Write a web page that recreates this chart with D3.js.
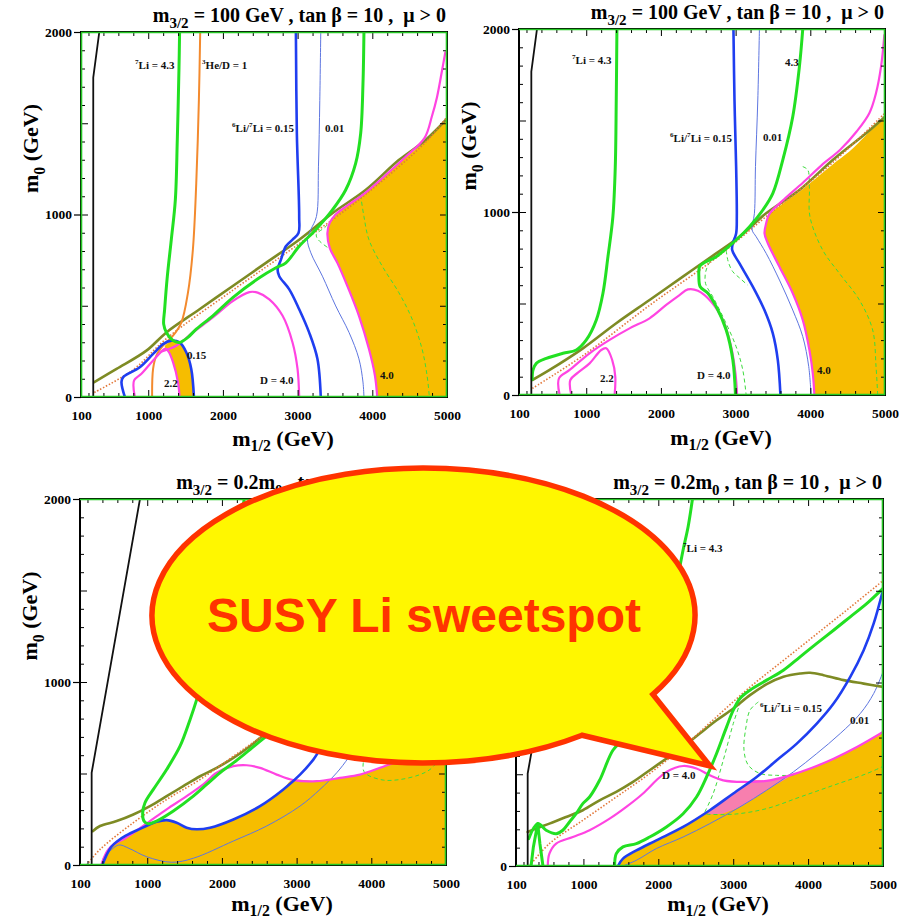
<!DOCTYPE html>
<html>
<head>
<meta charset="utf-8">
<script src="https://cdn.jsdelivr.net/npm/d3@7"></script>
<style>
  html, body { margin: 0; padding: 0; background: #fff; }
  svg { display: block; }
  text { white-space: pre; }
</style>
</head>
<body>
<svg id="fig" width="906" height="922"></svg>
<script>
// ---------------------------------------------------------------
// Axis ticks (m_1/2 and m_0 in GeV)
// ---------------------------------------------------------------
const m12TickLabels = [100, 1000, 2000, 3000, 4000, 5000];
const m0TickLabels = [0, 1000, 2000];
const m12MinorTicks = d3.range(200, 5000, 200);
const m0MinorTicks = d3.range(100, 2000, 100);

// ---------------------------------------------------------------
// Panel 1: m3/2 = 100 GeV  (contours as [m_1/2, m_0] pairs)
// ---------------------------------------------------------------
const tlBlack = [[264,0],[264,1750],[345,2000]];
const tlLi7 = [[1420,2000],[1412,1806],[1389,1407],[1363,1080],[1309,862],[1256,662],[1220,481],[1207,399],[1243,354],[1332,309],[1420,299],[1532,327],[1643,372],[1865,445],[2132,545],[2488,653],[2710,708],[2843,735],[3021,826],[3243,917],[3466,1025],[3643,1134],[3777,1280],[3844,1443],[3875,1715],[3888,2000]];
const tlHeD = [[1696,2000],[1678,1624],[1643,1171],[1598,808],[1532,572],[1443,408],[1332,336],[1198,281],[1109,227],[1065,154],[1052,0]];
const tlOlive = [[278,82],[576,154],[976,254],[1243,354],[1687,481],[2132,608],[2576,735],[3021,862],[3466,1007],[3910,1134],[4355,1298],[4710,1407],[5000,1525]];
const tlDotted = [[278,25],[800,150],[1243,320],[2132,585],[3021,840],[3910,1110],[4710,1395],[5000,1535]];
const tlMagLoop = [[820,0],[811,91],[909,127],[1065,200],[1180,250],[1230,265],[1270,250],[1332,191],[1398,82],[1420,0]];
const tlMagD = [[1180,250],[1376,281],[1598,354],[1865,436],[2132,526],[2354,575],[2465,572],[2621,535],[2799,445],[2932,299],[2999,154],[3021,0]];
const tlMagR = [[4977,1888],[4933,1788],[4866,1643],[4799,1540],[4700,1420],[4444,1315],[4177,1215],[3910,1120],[3688,1055],[3510,1000],[3430,955],[3399,898],[3430,817],[3532,735],[3666,608],[3821,445],[3955,263],[4035,118],[4066,0]];
const tlBlueLoop = [[687,0],[642,82],[665,109],[887,163],[1065,236],[1198,290],[1309,309],[1420,299],[1509,245],[1576,154],[1612,0]];
const tlBlue = [[2977,2000],[2990,1443],[3021,989],[3012,898],[2932,862],[2843,826],[2777,753],[2732,699],[2754,662],[2888,590],[3021,481],[3154,354],[3265,209],[3310,0]];
const tlBlueThin = [[3310,2000],[3297,1624],[3279,1261],[3252,989],[3177,917],[3132,862],[3177,790],[3332,662],[3510,499],[3688,354],[3821,209],[3875,82],[3888,0]];
const tlDash = [[3843,1107],[3888,989],[3955,862],[4133,717],[4355,572],[4533,427],[4666,263],[4733,118],[4764,0]];
const tlDash2 = [[3510,1005],[3380,935],[3250,890],[3280,860],[3400,820]];
const tlFillR = [[5000,1519],[4710,1400],[4444,1312],[4177,1212],[3910,1118],[3688,1053],[3510,998],[3430,955],[3399,898],[3430,817],[3532,735],[3666,608],[3821,445],[3955,263],[4035,118],[4066,0]];
const tlFillRCorners = [[5000,0]];
const tlFillL = [[1420,0],[1398,82],[1332,191],[1265,254],[1220,275],[1309,305],[1420,297],[1509,245],[1576,154],[1612,0]];
const tlLabels = [["^{7}Li = 4.3",823,1797],["^{3}He/D = 1",1720,1797],["^{6}Li/^{7}Li = 0.15",2122,1452],["0.01",3367,1452],["0.15",1519,208],["2.2",1211,55],["D = 4.0",2497,71],["4.0",4103,99]];

// ---------------------------------------------------------------
// Panel 2: m3/2 = 100 GeV
// ---------------------------------------------------------------
const trBlack = [[265,0],[265,1767],[341,2000]];
const trLi7L = [[1411,2000],[1402,1612],[1389,1248],[1357,975],[1291,756],[1224,556],[1135,410],[1001,301],[867,246],[689,228],[466,200],[332,173],[288,137],[276,85]];
const trLi7R = [[3899,2000],[3854,1794],[3765,1521],[3631,1284],[3498,1102],[3364,1011],[3186,920],[3007,847],[2740,756],[2562,719],[2517,701],[2508,647],[2526,592],[2629,556],[2740,483],[2874,355],[2963,191],[2998,0]];
const trOlive = [[279,82],[510,137],[956,255],[1402,392],[1848,519],[2294,647],[2740,774],[3052,865],[3409,993],[3854,1120],[4300,1284],[4746,1430],[5000,1521]];
const trDotted = [[279,36],[956,215],[1848,490],[2740,750],[3409,975],[4300,1270],[5000,1540]];
const trMagD = [[644,0],[635,91],[778,137],[1045,228],[1313,301],[1580,364],[1848,419],[2071,492],[2249,546],[2361,577],[2495,570],[2673,510],[2829,410],[2940,264],[2998,118],[3020,0]];
const trMagLoop = [[800,0],[787,82],[889,122],[1045,173],[1201,246],[1268,255],[1348,191],[1389,100],[1380,0]];
const trMagR = [[4991,1967],[4947,1794],[4880,1650],[4790,1540],[4620,1440],[4400,1340],[4150,1255],[3900,1160],[3650,1070],[3453,990],[3409,938],[3387,883],[3431,829],[3587,701],[3765,556],[3899,410],[3988,246],[4033,118],[4055,0]];
const trBlue = [[2971,2000],[2985,1612],[3007,1248],[3016,975],[3007,883],[2963,829],[2954,792],[3052,719],[3230,592],[3386,464],[3498,337],[3565,191],[3600,0]];
const trBlueThin = [[3319,2000],[3297,1612],[3266,1248],[3252,993],[3221,902],[3275,865],[3409,774],[3587,628],[3765,464],[3899,319],[3979,155],[4010,0]];
const trDashL = [[2874,801],[2695,747],[2606,683],[2597,610],[2695,537],[2851,410],[3007,264],[3096,137],[3141,0]];
const trDashLoop = [[2874,790],[2900,730],[2960,675],[3052,640],[3163,600]];
const trDashR = [[3899,1248],[3966,1230],[3988,1138],[3995,975],[4166,792],[4389,665],[4657,519],[4835,355],[4880,155],[4902,0]];
const trFill = [[5000,1512],[4746,1420],[4523,1330],[4300,1260],[4077,1185],[3854,1111],[3631,1045],[3453,985],[3409,938],[3387,883],[3431,829],[3587,701],[3765,556],[3899,410],[3988,246],[4033,118],[4062,0]];
const trFillCorners = [[5000,0]];
const trLabels = [["^{7}Li = 4.3",810,1809],["4.3",3661,1798],["^{6}Li/^{7}Li = 0.15",2122,1383],["0.01",3367,1388],["2.2",1184,71],["D = 4.0",2483,87],["4.0",4090,115]];

// ---------------------------------------------------------------
// Panel 3: m3/2 = 0.2 m0
// ---------------------------------------------------------------
const blBlack = [[256,0],[256,504],[903,2000]];
const blOlive = [[270,185],[368,213],[591,240],[814,276],[1037,322],[1260,376],[1483,431],[1707,485],[1930,531],[2153,585],[2376,649],[2599,722],[3000,830],[3500,980],[4000,1130],[4500,1290],[5000,1450]];
const blDotted = [[189,0],[368,85],[814,231],[1260,358],[1707,467],[2153,594],[2599,722],[3000,840],[4000,1150],[5000,1480]];
const blLi7 = [[2300,2000],[2000,1400],[1800,1100],[1662,904],[1573,794],[1439,649],[1260,522],[1082,413],[970,340],[939,285],[957,240],[1015,225],[1126,240],[1350,295],[1617,376],[1796,440],[1974,504],[2153,558],[2376,631],[2599,704],[3000,820],[3500,960],[4000,1120],[4500,1280],[5000,1440]];
const blMag = [[385,0],[420,40],[480,85],[560,115],[700,145],[814,176],[1037,240],[1260,304],[1528,376],[1751,440],[1930,504],[2153,540],[2332,545],[2510,531],[2733,494],[2956,464],[3268,458],[3581,476],[3849,494],[4117,531],[4296,558],[4650,600],[5000,650]];
const blBlue = [[400,0],[450,50],[520,100],[600,130],[712,160],[890,195],[1126,236],[1260,245],[1394,231],[1528,204],[1662,195],[1841,204],[2153,249],[2510,322],[2822,413],[3046,494],[3224,576],[3313,631],[3600,800],[3900,1000],[4200,1250],[4500,1550]];
const blBlueThin = [[412,37],[613,109],[756,91],[993,45],[1328,15],[1617,37],[2153,131],[2599,213],[3046,322],[3313,413],[3537,504],[3700,590],[4000,780]];
const blDash = [[3893,560],[3893,520],[3938,495],[4161,464],[4384,467],[4652,494],[4786,522],[4900,570]];
const blFill = [[385,0],[450,50],[520,100],[600,130],[712,160],[890,195],[1126,236],[1260,245],[1394,231],[1528,204],[1662,195],[1841,204],[2153,249],[2510,322],[2822,413],[2930,462],[3268,458],[3581,476],[3849,494],[4117,531],[4296,558],[4650,600],[5000,650]];
const blFillCorners = [[5000,0]];
const blLabels = [];

// ---------------------------------------------------------------
// Panel 4: m3/2 = 0.2 m0
// ---------------------------------------------------------------
const brBlack = [[256,0],[256,504],[903,2000]];
const brLi7 = [[2456,2000],[2398,1849],[2331,1722],[2200,1450],[2000,1120],[1750,850],[1550,700],[1394,631],[1216,467],[1082,376],[992,340],[903,285],[814,240],[725,195],[636,176],[502,195],[390,231],[270,149]];
const brTent = [[301,0],[332,104],[390,231],[420,120],[460,0]];
const brLi7R = [[1417,0],[1439,67],[1528,104],[1707,122],[1885,158],[2108,213],[2331,285],[2510,376],[2644,485],[2778,613],[2912,758],[3001,849],[3090,913],[3224,958],[3447,1013],[3670,1067],[3893,1140],[4116,1213],[4340,1285],[4563,1358],[4786,1431],[5000,1513]];
const brOlive = [[256,185],[368,204],[546,231],[769,267],[992,304],[1216,358],[1439,404],[1662,458],[1885,522],[2108,585],[2331,649],[2554,722],[2778,794],[3001,858],[3224,931],[3447,991],[3670,1031],[3893,1049],[4027,1053],[4206,1040],[4474,1013],[4742,994],[5000,976]];
const brDotted = [[279,0],[546,122],[992,249],[1439,376],[1885,504],[2331,649],[2778,813],[3224,975],[3670,1120],[4116,1265],[4563,1410],[5000,1555]];
const brMag = [[524,0],[546,67],[636,122],[859,158],[1082,195],[1350,258],[1573,322],[1796,395],[1974,467],[2108,513],[2331,545],[2510,531],[2688,494],[2867,467],[3135,458],[3447,464],[3759,494],[4027,531],[4340,585],[4652,649],[5000,731]];
const brBlue = [[1461,0],[1528,40],[1707,85],[1974,140],[2331,213],[2688,304],[3001,395],[3313,485],[3581,576],[3849,667],[4116,776],[4340,885],[4563,1031],[4742,1176],[4876,1322],[5000,1504]];
const brBlueThin = [[1528,0],[1707,31],[1974,95],[2331,158],[2688,231],[3090,322],[3447,413],[3804,513],[4116,613],[4429,722],[4697,831],[4876,940],[5000,1058]];
const brDashA = [[2622,295],[2733,395],[2867,576],[3001,776],[3090,885]];
const brDashB = [[3336,894],[3224,849],[3171,758],[3144,631],[3202,549],[3358,504],[3581,494],[3804,494]];
const brDashC = [[2644,282],[3001,282],[3447,313],[3893,376],[4340,440],[4786,504],[4987,540]];
const brFill = [[1461,0],[1528,40],[1707,85],[1974,140],[2331,213],[2688,304],[3001,395],[3260,465],[3447,464],[3759,494],[4027,531],[4340,585],[4652,649],[5000,731]];
const brFillCorners = [[5000,0]];
const brPink = [[2660,280],[2688,304],[3001,395],[3260,465],[3447,464],[3780,497],[3447,413],[3090,322],[2850,285]];
const brLabels = [["^{7}Li = 4.3",2330,1711],["^{6}Li/^{7}Li = 0.15",3358,839],["0.01",4559,774],["D = 4.0",2049,474]];

// ---------------------------------------------------------------
// Styles
// ---------------------------------------------------------------
const ORANGE = "#F6BD00";
const PINK = "#F77FAE";
const STY = {
  black:    { stroke: "#111111", w: 1.8 },
  li7:      { stroke: "#22E022", w: 3.0 },
  olive:    { stroke: "#7E8B24", w: 2.6 },
  dotted:   { stroke: "#E2783A", w: 1.6, dash: "1.5,1.8" },
  he:       { stroke: "#F38A2E", w: 2.0 },
  mag:      { stroke: "#FF44E2", w: 2.2 },
  blue:     { stroke: "#1F3EF0", w: 2.6 },
  blueThin: { stroke: "#5E76E0", w: 1.0 },
  dash:     { stroke: "#3EDB3E", w: 1.0, dash: "4,3" }
};
const SERIF = "'Liberation Serif', 'Times New Roman', serif";

const panels = [
  { box: [81, 32, 447, 397], title: "m_{3/2} = 100 GeV , tan β = 10 ,  μ > 0", xTitleGap: 49,
    greenEdges: ["left", "top", "right", "bottom"],
    fills: [{ edge: tlFillR, corners: tlFillRCorners, color: ORANGE }, { edge: tlFillL, corners: [], color: ORANGE }],
    curves: [["dash", tlDash], ["dash", tlDash2], ["olive", tlOlive], ["dotted", tlDotted], ["he", tlHeD],
             ["mag", tlMagLoop], ["mag", tlMagD], ["mag", tlMagR], ["blueThin", tlBlueThin], ["blue", tlBlue],
             ["blue", tlBlueLoop], ["li7", tlLi7], ["black", tlBlack, true]],
    labels: tlLabels },
  { box: [519, 29, 885, 395], title: "m_{3/2} = 100 GeV , tan β = 10 ,  μ > 0", xTitleGap: 50,
    greenEdges: ["top", "right", "bottom"],
    fills: [{ edge: trFill, corners: trFillCorners, color: ORANGE }],
    curves: [["dash", trDashL], ["dash", trDashLoop], ["dash", trDashR], ["olive", trOlive], ["dotted", trDotted],
             ["mag", trMagD], ["mag", trMagLoop], ["mag", trMagR], ["blueThin", trBlueThin], ["blue", trBlue],
             ["li7", trLi7L], ["li7", trLi7R], ["black", trBlack, true]],
    labels: trLabels },
  { box: [80, 499, 446, 865], title: "m_{3/2} = 0.2m_{0} , tan β = 10 ,  μ > 0", xTitleGap: 46,
    greenEdges: ["top", "right", "bottom"],
    fills: [{ edge: blFill, corners: blFillCorners, color: ORANGE }],
    curves: [["dash", blDash], ["blueThin", blBlueThin], ["olive", blOlive], ["dotted", blDotted],
             ["mag", blMag], ["blue", blBlue], ["li7", blLi7], ["black", blBlack, true]],
    labels: blLabels },
  { box: [516, 499, 883, 866], title: "m_{3/2} = 0.2m_{0} , tan β = 10 ,  μ > 0", xTitleGap: 45,
    greenEdges: ["top", "right", "bottom"],
    fills: [{ edge: brFill, corners: brFillCorners, color: ORANGE }, { edge: brPink, corners: [], color: PINK }],
    curves: [["dash", brDashA], ["dash", brDashB], ["dash", brDashC], ["blueThin", brBlueThin], ["olive", brOlive],
             ["dotted", brDotted], ["mag", brMag], ["blue", brBlue], ["li7", brLi7R], ["li7", brLi7],
             ["li7", brTent, true], ["black", brBlack, true]],
    labels: brLabels }
];

// ---------------------------------------------------------------
// Rich text: _{..} subscripts and ^{..} superscripts
// ---------------------------------------------------------------
function rich(sel, str, size, ratio, subShift) {
  const parts = [];
  const re = /([_^])\{([^}]*)\}/g;
  let last = 0, m;
  while ((m = re.exec(str))) {
    if (m.index > last) parts.push({ t: str.slice(last, m.index), off: 0 });
    parts.push({ t: m[2], off: m[1] === "_" ? (subShift || 0.3) : -0.42 });
    last = re.lastIndex;
  }
  if (last < str.length) parts.push({ t: str.slice(last), off: 0 });
  let cur = 0;
  parts.forEach(p => {
    const target = p.off * size;
    sel.append("tspan")
      .attr("dy", target - cur)
      .attr("font-size", p.off ? size * ratio : size)
      .text(p.t);
    cur = target;
  });
}

const svg = d3.select("#fig");
const defs = svg.append("defs");

panels.forEach((p, i) => {
  const [x0, y0, x1, y1] = p.box;
  const x = d3.scaleLinear().domain([100, 5000]).range([x0, x1]);
  const y = d3.scaleLinear().domain([0, 2000]).range([y1, y0]);

  defs.append("clipPath").attr("id", "clip" + i)
    .append("rect").attr("x", x0).attr("y", y0).attr("width", x1 - x0).attr("height", y1 - y0);

  const g = svg.append("g");
  const plot = g.append("g").attr("clip-path", `url(#clip${i})`);

  const smooth = d3.line().x(d => x(d[0])).y(d => y(d[1])).curve(d3.curveCatmullRom.alpha(0.5));
  const straight = d3.line().x(d => x(d[0])).y(d => y(d[1]));

  // excluded / shaded regions
  p.fills.forEach(f => {
    let path = smooth(f.edge);
    f.corners.forEach(c => { path += `L${x(c[0])},${y(c[1])}`; });
    path += "Z";
    plot.append("path").attr("d", path).attr("fill", f.color).attr("stroke", "none");
  });

  // contours
  p.curves.forEach(([style, data, linear]) => {
    const s = STY[style];
    plot.append("path")
      .attr("d", (linear ? straight : smooth)(data))
      .attr("fill", "none")
      .attr("stroke", s.stroke)
      .attr("stroke-width", s.w)
      .attr("stroke-dasharray", s.dash || null)
      .attr("stroke-linejoin", "round")
      .attr("stroke-linecap", s.dash ? "butt" : "round");
  });

  // inner minor / major ticks on all four sides
  const tickStyle = sel => {
    sel.select(".domain").remove();
    sel.selectAll("line").attr("stroke", "#000").attr("stroke-width", 1);
  };
  const majX = m12MinorTicks.filter(v => v % 1000 === 0);
  const minX = m12MinorTicks.filter(v => v % 1000 !== 0);
  const majY = m0MinorTicks.filter(v => v % 500 === 0);
  const minY = m0MinorTicks.filter(v => v % 500 !== 0);
  [[minX, 4], [majX, 7]].forEach(([vals, len]) => {
    g.append("g").attr("transform", `translate(0,${y1})`)
      .call(d3.axisBottom(x).tickValues(vals).tickSize(-len).tickFormat("")).call(tickStyle);
    g.append("g").attr("transform", `translate(0,${y0})`)
      .call(d3.axisTop(x).tickValues(vals).tickSize(-len).tickFormat("")).call(tickStyle);
  });
  [[minY, 4], [majY, 7]].forEach(([vals, len]) => {
    g.append("g").attr("transform", `translate(${x0},0)`)
      .call(d3.axisLeft(y).tickValues(vals).tickSize(-len).tickFormat("")).call(tickStyle);
    g.append("g").attr("transform", `translate(${x1},0)`)
      .call(d3.axisRight(y).tickValues(vals).tickSize(-len).tickFormat("")).call(tickStyle);
  });

  // frame
  g.append("rect").attr("x", x0).attr("y", y0).attr("width", x1 - x0).attr("height", y1 - y0)
    .attr("fill", "none").attr("stroke", "#000").attr("stroke-width", 2);
  const edges = {
    left: [x0 + 0.5, y0, x0 + 0.5, y1], right: [x1 - 0.5, y0, x1 - 0.5, y1],
    top: [x0, y0 + 0.5, x1, y0 + 0.5], bottom: [x0, y1 - 0.5, x1, y1 - 0.5]
  };
  p.greenEdges.forEach(e => {
    const [ax, ay, bx, by] = edges[e];
    g.append("line").attr("x1", ax).attr("y1", ay).attr("x2", bx).attr("y2", by)
      .attr("stroke", "#25C825").attr("stroke-width", 1.6);
  });

  // labelled axes
  const labelStyle = sel => {
    sel.select(".domain").remove();
    sel.attr("font-family", SERIF).attr("font-size", 13.5).attr("font-weight", "bold");
    sel.selectAll("text").attr("fill", "#000");
    sel.selectAll("line").attr("stroke", "#000").attr("stroke-width", 1.2);
  };
  g.append("g").attr("transform", `translate(0,${y1})`)
    .call(d3.axisBottom(x).tickValues(m12TickLabels).tickSize(0).tickPadding(13.5).tickFormat(d3.format("d")))
    .call(labelStyle);
  g.append("g").attr("transform", `translate(${x0},0)`)
    .call(d3.axisLeft(y).tickValues(m0TickLabels).tickSize(7).tickPadding(2).tickFormat(d3.format("d")))
    .call(labelStyle);

  // axis titles
  const xt = g.append("text").attr("x", x0 + 202).attr("y", y1 + p.xTitleGap)
    .attr("text-anchor", "middle").attr("font-family", SERIF).attr("font-weight", "bold").attr("fill", "#000");
  rich(xt, "m_{1/2} (GeV)", 22, 0.72, 0.24);
  const yt = g.append("text").attr("transform", `translate(${x0 - 43},${(y0 + y1) / 2 - 66}) rotate(-90)`)
    .attr("text-anchor", "middle").attr("font-family", SERIF).attr("font-weight", "bold").attr("fill", "#000");
  rich(yt, "m_{0} (GeV)", 22, 0.72);

  // panel title
  const tt = g.append("text").attr("x", x1 - 1).attr("y", y0 - 10)
    .attr("text-anchor", "end").attr("font-family", SERIF).attr("font-weight", "bold").attr("fill", "#000");
  rich(tt, p.title, 20, 0.75);

  // contour labels
  p.labels.forEach(([txt, mx, my]) => {
    const t = g.append("text").attr("x", x(mx)).attr("y", y(my))
      .attr("font-family", SERIF).attr("font-weight", "bold").attr("fill", "#111");
    rich(t, txt, 11, 0.65);
  });
});

// ---------------------------------------------------------------
// Speech balloon
// ---------------------------------------------------------------
(function balloon() {
  const cx = 423.5, cy = 615.5, rx = 271.5, ry = 147.5;
  const tip = [710, 766];
  const aA = Math.acos(0.845), aB = Math.acos(0.584);
  const A = [cx + rx * Math.cos(aA), cy + ry * Math.sin(aA)];
  const B = [cx + rx * Math.cos(aB), cy + ry * Math.sin(aB)];
  const d = `M${B[0]},${B[1]}L${tip[0]},${tip[1]}L${A[0]},${A[1]}` +
            `A${rx},${ry} 0 1 0 ${B[0]},${B[1]}Z`;
  const bg = svg.append("g");
  bg.append("path").attr("d", d)
    .attr("fill", "#FFF700").attr("stroke", "#FF3300").attr("stroke-width", 5.5)
    .attr("stroke-linejoin", "miter").attr("stroke-miterlimit", 10);
  bg.append("text").attr("x", 424).attr("y", 632).attr("text-anchor", "middle")
    .attr("font-family", "'Liberation Sans', Arial, sans-serif").attr("font-weight", "bold")
    .attr("font-size", 48).attr("fill", "#FF3300").text("SUSY Li sweetspot");
})();
</script>
</body>
</html>
